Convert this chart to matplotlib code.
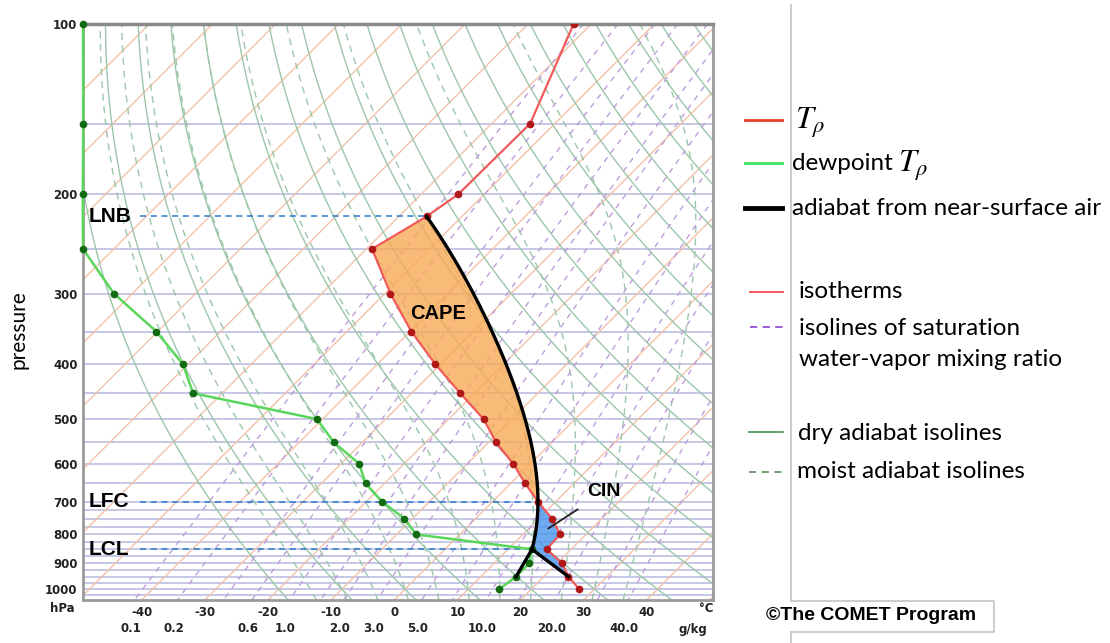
import numpy as np
import matplotlib.pyplot as plt
from matplotlib.lines import Line2D
import matplotlib.transforms as mtransforms

#---------------------------------------------
'''SOUNDING DATA (read off the diagram)'''
#---------------------------------------------
# environmental T_rho profile (hPa, degC)
pres_env = [100, 150, 200, 219, 250, 300, 350, 400, 450, 500, 550, 600,
            650, 700, 750, 800, 850, 900, 950, 1000]
t_env = [-62.8, -53.9, -54.1, -55.6, -59.1, -49.1, -39.8, -30.8, -22.3, -14.5,
         -8.8, -2.7, 2.3, 7.2, 12.1, 15.9, 16.1, 20.8, 23.9, 27.6]

# dewpoint T_rho profile (upper values sit on the left border)
pres_dew = [100, 150, 200, 250, 300, 350, 400, 450, 500, 550, 600, 650,
            700, 750, 800, 850, 900, 950, 1000]
td_env = [-140.5, -124.7, -113.6, -104.9, -92.9, -80.2, -70.8, -64.6, -40.9,
          -34.5, -27.1, -23.0, -17.5, -11.3, -6.9, 13.8, 15.6, 15.6, 14.9]

# adiabat from near-surface air (dry branch to LCL, then moist to LNB)
pres_parcel = [950, 850, 777, 700, 642, 568, 502, 445, 389, 338, 300, 251, 219]
t_parcel = [23.9, 13.8, 10.8, 7.2, 3.5, -1.7, -7.4, -14.4, -21.2, -28.6,
            -36.0, -47.0, -55.6]
# mixing-ratio branch from the near-surface dewpoint to LCL
pres_mix = [950, 850]
td_mix = [15.6, 13.8]

# levels
p_lnb, p_lfc, p_lcl = 219, 700, 850

# axis labels
pres_ticks = [100, 200, 300, 400, 500, 600, 700, 800, 900, 1000]
temp_ticks = [-40, -30, -20, -10, 0, 10, 20, 30, 40]
mix_ticks = [0.1, 0.2, 0.6, 1.0, 2.0, 3.0, 5.0, 10.0, 20.0, 40.0]

# background isolines
isobars = list(range(150, 700, 50)) + list(range(700, 1050, 25))
isotherms = np.arange(-170, 60, 10)
dry_theta_c = np.arange(-20, 200, 10)
moist_thw = [-15, -10, -5, 0, 5, 10, 15, 20, 25, 30, 35]
mix_lines = [0.1, 0.2, 0.4, 0.6, 1.0, 1.5, 2.0, 3.0, 5.0, 7.0, 10.0, 14.0,
             20.0, 30.0, 40.0]

#---------------------------------------------
'''SKEW-T HELPERS'''
#---------------------------------------------
P_BOT, P_TOP = 1045.0, 100.0
SKEW = 89.5  # degC per decade of pressure
RD, CP, LV, EPS = 287.04, 1005.7, 2.501e6, 0.622


def skew_x(t, p):
    return np.asarray(t, float) + SKEW * np.log10(P_BOT / np.asarray(p, float))


def sat_vp(tc):
    return 6.112 * np.exp(17.67 * tc / (tc + 243.5))


def dew_from_w(w_gkg, p):
    w = np.asarray(w_gkg) / 1000.0
    e = w * p / (EPS + w)
    lg = np.log(e / 6.112)
    return 243.5 * lg / (17.67 - lg)


def moist_lapse(t, p):
    tc = t - 273.15
    es = sat_vp(tc)
    rs = EPS * es / (p - es)
    return (RD * t + LV * rs) / (p * (CP + LV ** 2 * rs * EPS / (RD * t ** 2)))


def moist_adiabats(thw):
    t0 = np.asarray(thw, float) + 273.15
    out = {}
    for p_end in (P_TOP, P_BOT):
        ps = np.linspace(1000.0, p_end, 600)
        t = t0.copy()
        res = [t.copy()]
        for i in range(len(ps) - 1):
            dp = ps[i + 1] - ps[i]
            k1 = moist_lapse(t, ps[i])
            k2 = moist_lapse(t + dp * k1, ps[i + 1])
            t = t + 0.5 * dp * (k1 + k2)
            res.append(t.copy())
        out[p_end] = (ps, np.array(res) - 273.15)
    ps = np.concatenate([out[P_BOT][0][::-1], out[P_TOP][0][1:]])
    ts = np.concatenate([out[P_BOT][1][::-1], out[P_TOP][1][1:]])
    return ps, ts


#---------------------------------------------
'''PLOTTING'''
#---------------------------------------------
plt.rcParams['mathtext.fontset'] = 'stix'
W, H = 1110, 643
fig = plt.figure(figsize=(W / 100, H / 100), dpi=100)
ax = fig.add_axes([83 / W, 1 - 600 / H, 630 / W, 576 / H])
ax.set_yscale('log')
ax.set_ylim(P_BOT, P_TOP)
ax.set_xlim(-49.3, 50.5)

pp = np.logspace(np.log10(P_TOP), np.log10(P_BOT), 200)

# isobars
for p in isobars:
    ax.axhline(p, color='#c6c6e6', lw=1.4, zorder=1)

# isotherms
for t0 in isotherms:
    ax.plot(skew_x(np.full_like(pp, t0), pp), pp, color='#f2c2aa', lw=1, zorder=1)

# dry adiabats
for th in dry_theta_c:
    t = (th + 273.15) * (pp / 1000.0) ** 0.286 - 273.15
    ax.plot(skew_x(t, pp), pp, color='#9cc6aa', lw=1, zorder=1)

# moist adiabats
mp, mt = moist_adiabats(moist_thw)
for j in range(len(moist_thw)):
    ax.plot(skew_x(mt[:, j], mp), mp, color='#9cc6aa', lw=1, ls=(0, (5, 4)), zorder=1)

# saturation mixing ratio lines
for w in mix_lines:
    ax.plot(skew_x(dew_from_w(w, pp), pp), pp, color='#bf9edb', lw=1,
            ls=(0, (4, 4)), zorder=1)

# smooth the moist part of the parcel curve through the read points
x_par = skew_x(t_parcel, pres_parcel)
lp_m = np.log(pres_parcel[1:])
wts = np.ones(len(lp_m))
wts[0] = wts[-1] = 20
wts[2] = 10
coef = np.polyfit(lp_m, x_par[1:], 4, w=wts)
p_moist = np.logspace(np.log10(p_lcl), np.log10(p_lnb), 150)
x_moist = np.polyval(coef, np.log(p_moist))
p_curve = np.concatenate([[pres_parcel[0]], p_moist])
x_curve = np.concatenate([[x_par[0]], x_moist])

# CAPE and CIN areas
x_env = skew_x(t_env, pres_env)
lp_env = np.log(pres_env)
lp_cur = np.log(p_curve)[::-1]
xc_rev = x_curve[::-1]

pg = np.logspace(np.log10(p_lnb), np.log10(p_lfc), 200)
ax.fill_betweenx(pg, np.interp(np.log(pg), lp_env, x_env),
                 np.interp(np.log(pg), lp_cur, xc_rev),
                 color='#f8aa56', alpha=0.8, lw=0, zorder=2)
pg = np.logspace(np.log10(p_lfc), np.log10(pres_parcel[0]), 200)
ax.fill_betweenx(pg, np.interp(np.log(pg), lp_env, x_env),
                 np.interp(np.log(pg), lp_cur, xc_rev),
                 color='#4a95ec', alpha=0.8, lw=0, zorder=2)

# level lines
for lev, name in [(p_lnb, 'LNB'), (p_lfc, 'LFC'), (p_lcl, 'LCL')]:
    x_end = np.interp(np.log(lev), lp_cur, xc_rev)
    ax.plot([-40.3, x_end], [lev, lev], color='#2a7ad0', lw=1.1, ls=(0, (4, 3)), zorder=3)
    ax.text(-48.4, lev, name, fontsize=15, fontweight='bold', family='Liberation Sans',
            va='center', ha='left', zorder=5)

# profiles
ax.plot(x_env, pres_env, color='#f05a5a', lw=1.6, zorder=4)
ax.plot(x_env, pres_env, ls='none', marker='o', ms=4.5, color='#b01818', zorder=5)
x_dew = skew_x(td_env, pres_dew)
ax.plot(x_dew, pres_dew, color='#5ad65a', lw=1.8, zorder=4, clip_on=False)
ax.plot(x_dew, pres_dew, ls='none', marker='o', ms=4.5, color='#126a12', zorder=5,
        clip_on=False)
ax.plot(x_curve, p_curve, color='black', lw=2.4, zorder=6)
ax.plot(skew_x(td_mix, pres_mix), pres_mix, color='black', lw=2.4, zorder=6)

# CAPE / CIN annotations
ax.text(6.97, 325, 'CAPE', fontsize=14.5, fontweight='bold', family='Liberation Sans',
        ha='center', va='center', zorder=7)
ax.annotate('CIN', xy=(24.4, 781), xytext=(33.3, 673), fontsize=14,
            fontweight='bold', family='Liberation Sans', ha='center', va='center',
            arrowprops=dict(arrowstyle='-', color='#222222', lw=1.3,
                            shrinkA=8, shrinkB=0), zorder=7)

# axes ticks
ax.yaxis.set_minor_locator(plt.NullLocator())
ax.set_yticks(pres_ticks)
ax.set_yticklabels([str(p) for p in pres_ticks])
ax.set_xticks(temp_ticks)
ax.set_xticklabels([str(t) for t in temp_ticks])
ax.tick_params(length=0, labelsize=8.5, colors='#222222', pad=4)
for lab in ax.get_xticklabels() + ax.get_yticklabels():
    lab.set_fontweight('bold')
trans = mtransforms.blended_transform_factory(ax.transData, ax.transAxes)
for w in mix_ticks:
    ax.text(float(dew_from_w(w, P_BOT)) - 0.6, -0.049, '%.1f' % w, transform=trans,
            fontsize=8.5, fontweight='bold', color='#222222', ha='center', va='center')
fig.text(62 / W, 1 - 609 / H, 'hPa', fontsize=8.5, fontweight='bold', color='#222222',
         ha='center', va='center')
fig.text(706 / W, 1 - 609 / H, '°C', fontsize=8.5, fontweight='bold', color='#222222',
         ha='center', va='center')
fig.text(693 / W, 1 - 630 / H, 'g/kg', fontsize=8.5, fontweight='bold', color='#222222',
         ha='center', va='center')
for s in ax.spines.values():
    s.set_color('#9a9a9a')
    s.set_linewidth(2)
ax.spines['top'].set_color('#8a8a8a')
ax.spines['top'].set_linewidth(2.5)

fig.text(18 / W, 1 - 330 / H, 'pressure', rotation=90, fontsize=15, family='Lato',
         ha='center', va='center')

#---------------------------------------------
'''LEGEND'''
#---------------------------------------------


def fx(x):
    return x / W


def fy(y):
    return 1 - y / H


fig.add_artist(Line2D([fx(791), fx(791)], [fy(5), fy(601)], color='#c4c4c4', lw=1.2))
fig.add_artist(Line2D([fx(791), fx(791)], [fy(632), fy(643)], color='#c4c4c4', lw=1.2))
fig.add_artist(Line2D([fx(791), fx(994), fx(994), fx(791)],
                      [fy(601), fy(601), fy(632), fy(632)], color='#c4c4c4', lw=1.2))

legend_items = [
    (745, 782, 120, '#e8402a', 2.0, '-'),
    (745, 782, 163, '#3ee060', 2.0, '-'),
    (745, 782, 208, 'black', 3.5, '-'),
    (750, 783, 292, '#f04858', 1.3, '-'),
    (750, 783, 327, '#9050d0', 1.3, (0, (4, 3))),
    (749, 783, 432, '#5a9a5a', 1.3, '-'),
    (749, 783, 472, '#6a9a6a', 1.3, (0, (4, 3))),
]
for x0, x1, y, c, lw, ls in legend_items:
    fig.add_artist(Line2D([fx(x0), fx(x1)], [fy(y), fy(y)], color=c, lw=lw, ls=ls))

LEG_FS = 17.5
fig.text(fx(795), fy(123), r'$T_\rho$', fontsize=23, va='center', ha='left')
fig.text(fx(792), fy(163), 'dewpoint', fontsize=LEG_FS, family='Lato',
         va='center', ha='left')
fig.text(fx(898), fy(166), r'$T_\rho$', fontsize=23, va='center', ha='left')
fig.text(fx(792), fy(208), 'adiabat from near-surface air', fontsize=LEG_FS,
         family='Lato', va='center', ha='left')
fig.text(fx(799), fy(292), 'isotherms', fontsize=LEG_FS, family='Lato',
         va='center', ha='left')
fig.text(fx(799), fy(328), 'isolines of saturation', fontsize=LEG_FS, family='Lato',
         va='center', ha='left')
fig.text(fx(799), fy(360), 'water-vapor mixing ratio', fontsize=LEG_FS, family='Lato',
         va='center', ha='left')
fig.text(fx(798), fy(433), 'dry adiabat isolines', fontsize=LEG_FS, family='Lato',
         va='center', ha='left')
fig.text(fx(797), fy(472), 'moist adiabat isolines', fontsize=LEG_FS, family='Lato',
         va='center', ha='left')
fig.text(fx(766), fy(616), '©The COMET Program', fontsize=14, fontweight='bold',
         family='Liberation Sans', va='center', ha='left')

fig.savefig('out.png', dpi=100)
